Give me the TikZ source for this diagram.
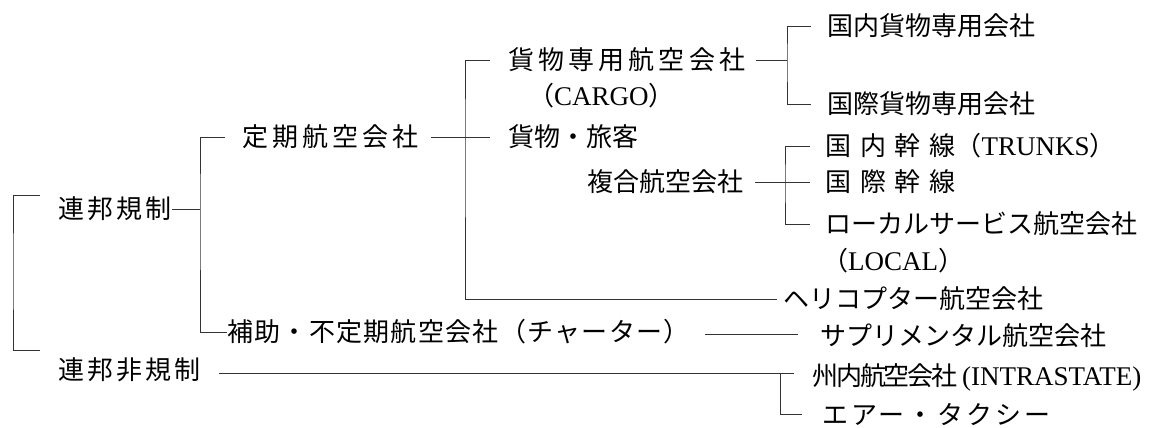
\documentclass[tikz,border=0pt]{standalone}
\usepackage{fontspec}
\setmainfont{Liberation Serif}
\newfontfamily\jp{Noto Sans CJK JP}
\newfontfamily\jpS[LetterSpace=5]{Noto Sans CJK JP}
\newfontfamily\jpM[LetterSpace=12]{Noto Sans CJK JP}
\newfontfamily\jpL[LetterSpace=16]{Noto Sans CJK JP}
\newfontfamily\jpX[LetterSpace=34]{Noto Sans CJK JP}
\newfontfamily\jpN[LetterSpace=-8]{Noto Sans CJK JP}
\newcommand\lat[1]{{\rmfamily\fontsize{27}{30}\selectfont #1}}
\usetikzlibrary{calc}
\begin{document}
\begin{tikzpicture}[x=1pt,y=-1pt,
  lbl/.style={anchor=west,inner sep=0pt,font=\fontsize{26}{30}\selectfont\jp,text=black},
  conn/.style={draw=black!80,line width=0.9pt}]
\useasboundingbox (0,0) rectangle (1154,428);

% labels
\node[lbl] (reg) at (58,209) {\jpM 連邦規制};
\node[lbl] (nonreg) at (58,370) {\jpM 連邦非規制};
\node[lbl] (teiki) at (242,137) {\jpL 定期航空会社};
\node[lbl] (hojo) at (227,332) {\jpS 補助・不定期航空会社（チャーター）};
\node[lbl] (kamotsu) at (508,60) {\jpL 貨物専用航空会社};
\node[lbl] (cargo) at (528,96) {（\lat{CARGO}）};
\node[lbl] (kr) at (508,137) {貨物・旅客};
\node[lbl] (fukugo) at (587,182) {複合航空会社};
\node[lbl] (kd) at (827,26) {国内貨物専用会社};
\node[lbl] (ki) at (827,104) {国際貨物専用会社};
\node[lbl] (trunks) at (825,146) {{\jpX 国内幹線}（\lat{TRUNKS}）};
\node[lbl] (kokusai) at (825,182) {\jpX 国際幹線};
\node[lbl] (local) at (825,224) {ローカルサービス航空会社};
\node[lbl] (localL) at (822,261) {（\lat{LOCAL}）};
\node[lbl] (heli) at (783,299) {ヘリコプター航空会社};
\node[lbl] (supp) at (820,336) {サプリメンタル航空会社};
\node[lbl] (intra) at (812,377) {{\jpN 州内航空会社}\,\lat{(INTRASTATE)}};
\node[lbl] (air) at (822,414) {\jpM エアー・タクシー};

% junction coordinates
\coordinate (lbT) at (40,195);
\coordinate (lbB) at (40,350);
\coordinate (lbx) at (13,270);
\coordinate (j1) at (200,209);
\coordinate (j2) at (465,137);
\coordinate (j3) at (787,60);
\coordinate (j4) at (785,182);
\coordinate (hs) at (0,334);
\coordinate (j5) at (780,373);

% connectors
\draw[conn] (lbT) -| (lbx) |- (lbB);
\draw[conn] (reg.east) -- (j1);
\draw[conn] ([xshift=-17pt]teiki.west) -| (j1) |- (hojo.west);
\draw[conn] ([xshift=12pt]teiki.east) -- ([xshift=-18pt]kr.west);
\draw[conn] ([xshift=-18pt]kamotsu.west) -| (j2) |- ([xshift=-6pt]heli.west);
\draw[conn] ([xshift=10pt]kamotsu.east) -- (j3);
\draw[conn] ([xshift=-16pt]kd.west) -| (j3) |- ([xshift=-16pt]ki.west);
\draw[conn] ([xshift=12pt]fukugo.east) -- ([xshift=-15pt]kokusai.west);
\draw[conn] ([xshift=-15pt]trunks.west) -| (j4) |- ([xshift=-15pt]local.west);
\draw[conn] ([xshift=15pt]hojo.east |- hs) -- ([xshift=-22pt]supp.west |- hs);
\draw[conn] ([xshift=18pt]nonreg.east |- j5) -- ([xshift=-18pt]intra.west |- j5);
\draw[conn] (j5) |- ([xshift=-20pt]air.west);
\end{tikzpicture}
\end{document}
